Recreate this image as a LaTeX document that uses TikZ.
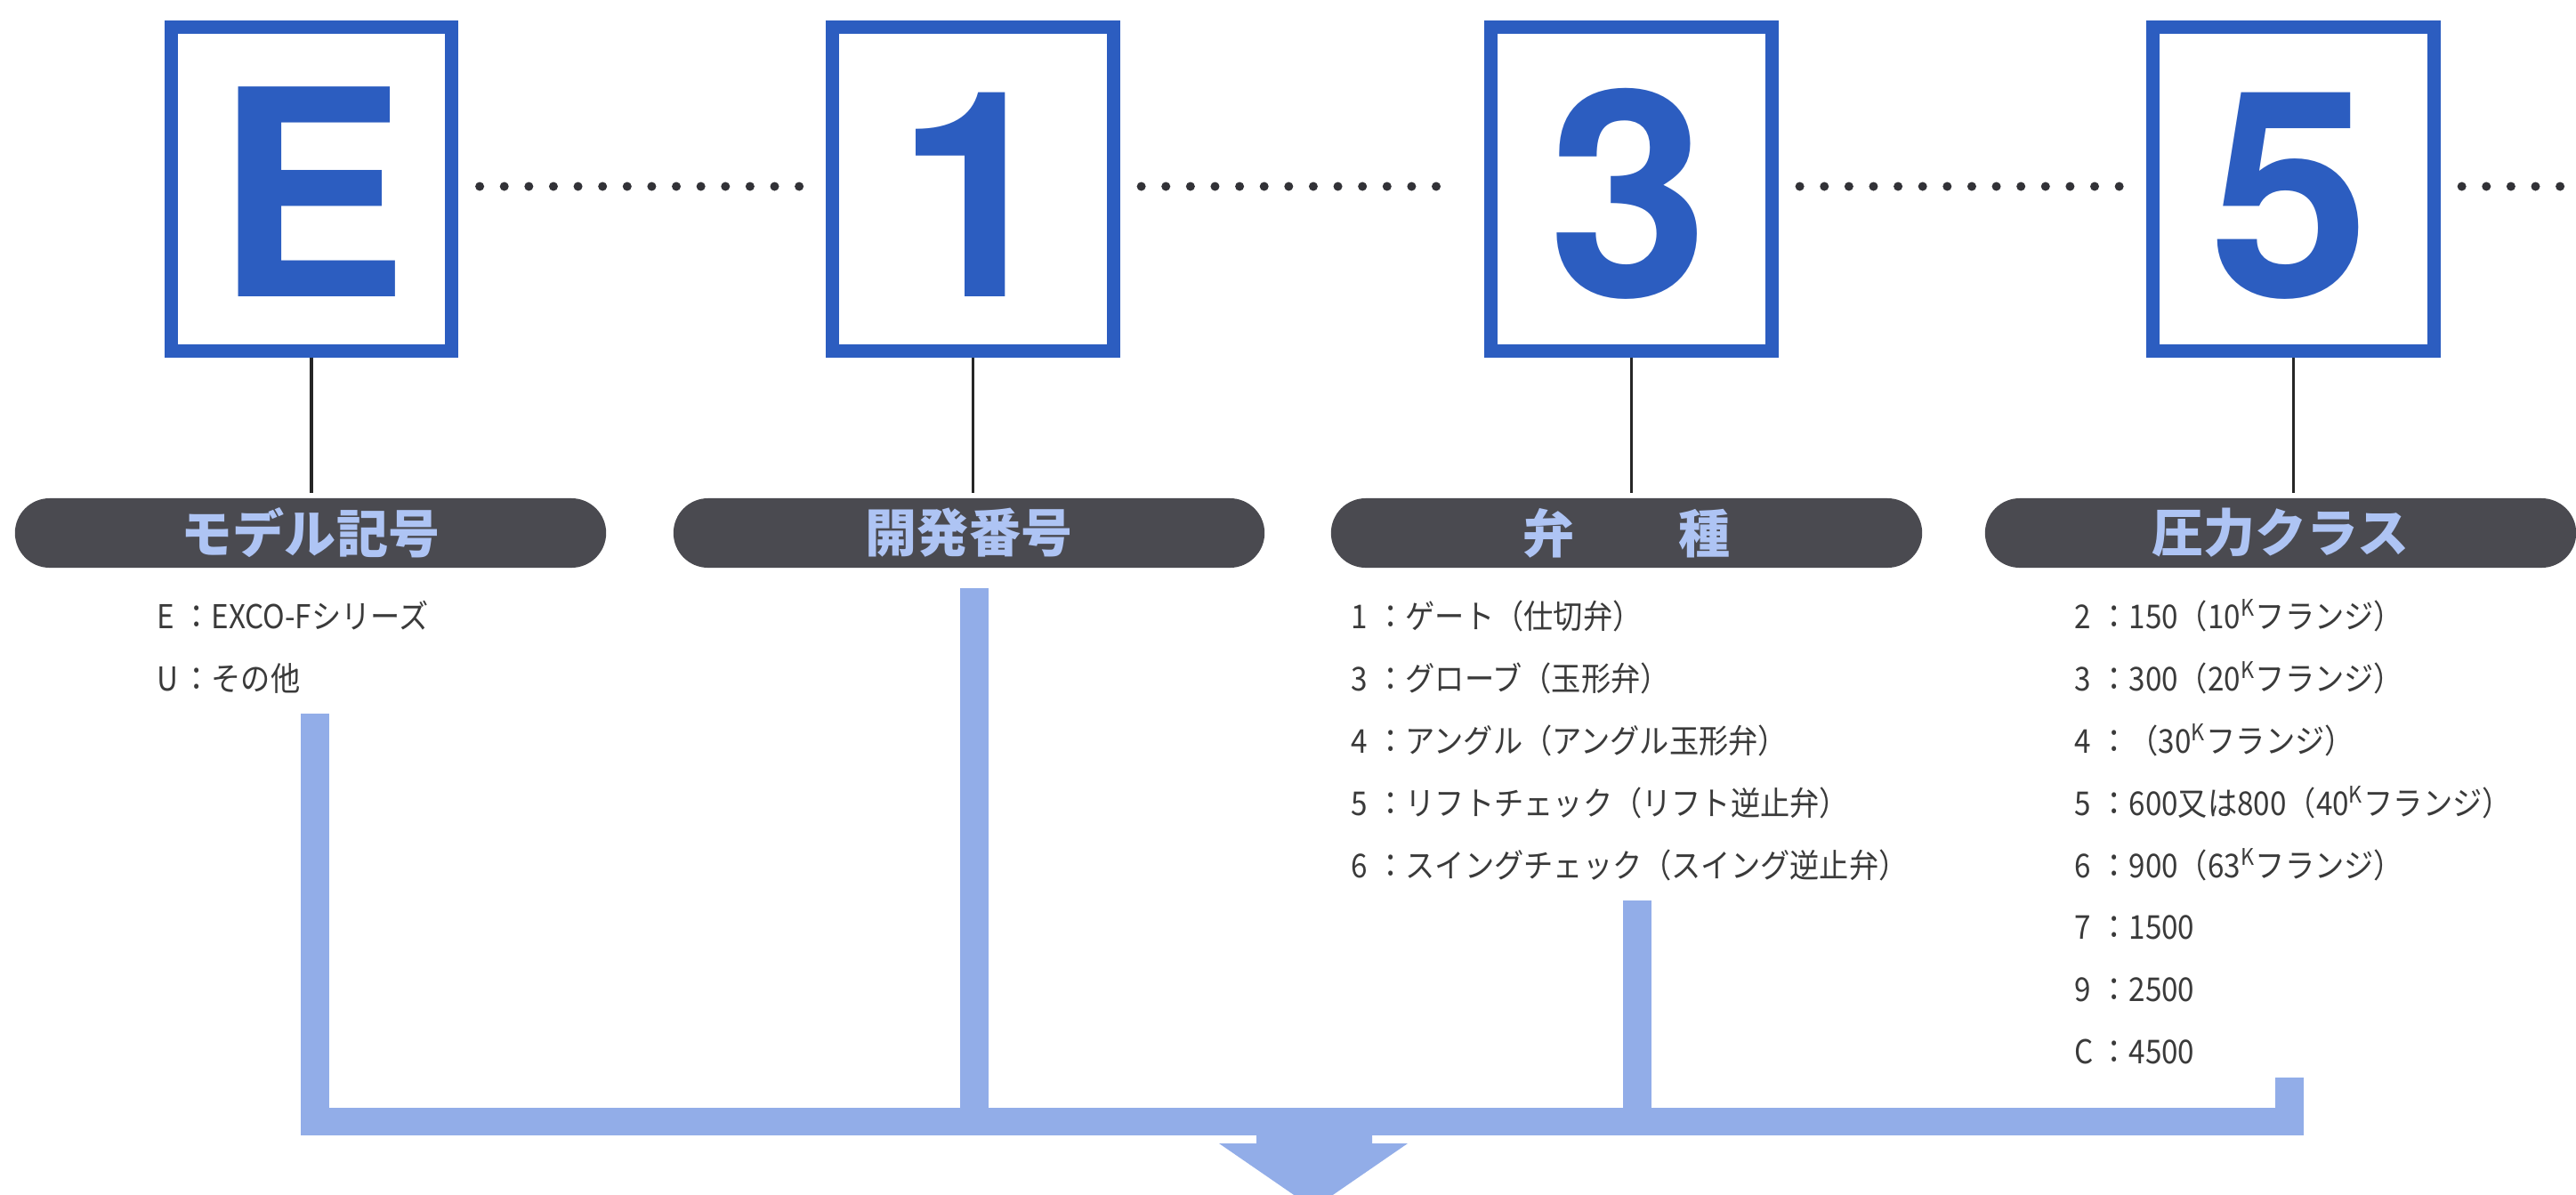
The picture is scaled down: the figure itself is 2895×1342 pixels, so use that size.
\documentclass[tikz,border=0pt]{standalone}
\usepackage{fontspec}
\setmainfont{Liberation Sans}
\newfontfamily\heros{TeX Gyre Heros}
\newfontfamily\cjk{Noto Sans CJK JP}
\newfontfamily\cjkn{Noto Sans CJK JP}[FakeStretch=0.9]
\definecolor{boxblue}{RGB}{44,93,192}
\definecolor{pillgray}{RGB}{74,74,80}
\definecolor{pilltext}{RGB}{174,196,244}
\definecolor{barblue}{RGB}{146,173,232}
\definecolor{itemtext}{RGB}{58,58,58}
\definecolor{dotgray}{RGB}{50,50,55}
\newcommand{\itm}[2]{\makebox[0.75em][l]{#1}：#2}
\newcommand{\kup}{\textsuperscript{K}}
\begin{document}
\begin{tikzpicture}[x=0.01cm,y=-0.01cm,
  codebox/.style={draw=boxblue, line width=0.15cm, fill=white, minimum width=3.15cm, minimum height=3.64cm, inner sep=0pt},
  numtxt/.style={text=boxblue, font=\heros\bfseries\fontsize{92}{92}\selectfont, inner sep=0pt, anchor=base},
  dotrow/.style={draw=dotgray, line width=0.10cm, line cap=round, dash pattern=on 0pt off 0.276cm},
  leadline/.style={draw=black!85, line width=0.035cm},
  pill/.style={fill=pillgray, rounded corners=0.39cm, minimum width=6.64cm, minimum height=0.78cm, inner sep=0pt, text=pilltext, font=\cjk\bfseries\fontsize{16.5}{16.5}\selectfont},
  listitem/.style={anchor=west, inner sep=0pt, text=itemtext, font=\cjkn\fontsize{10.5}{10.5}\selectfont},
  flowbar/.style={draw=barblue, line width=0.315cm, line join=miter, line cap=butt}
]
\useasboundingbox (0,0) rectangle (2895,1342);
\clip (0,0) rectangle (2895,1342);
\fill[white] (0,0) rectangle (2895,1342);

% code boxes
\node[codebox] (bE) at (350,212.5) {};
\node[codebox] (b1) at (1093.5,212.5) {};
\node[codebox] (b3) at (1833.5,212.5) {};
\node[codebox] (b5) at (2577.5,212.5) {};
\node[numtxt] (nE) at (350,333) {E};
\node[numtxt] (n1) at (1097,333) {1};
\node[numtxt] (n3) at (1830,333) {3};
\node[numtxt] (n5) at (2573,333) {5};

% dotted links
\coordinate (dotend) at (2895,212.5);
\draw[dotrow] ([xshift=0.24cm,yshift=0.03cm]bE.east) -- ([xshift=-0.3cm,yshift=0.03cm]b1.west);
\draw[dotrow] ([xshift=0.24cm,yshift=0.03cm]b1.east) -- ([xshift=-0.3cm,yshift=0.03cm]b3.west);
\draw[dotrow] ([xshift=0.24cm,yshift=0.03cm]b3.east) -- ([xshift=-0.3cm,yshift=0.03cm]b5.west);
\draw[dotrow] ([xshift=0.24cm,yshift=0.03cm]b5.east) -- ([yshift=0.03cm]dotend);

% pills
\node[pill] (pE) at (349,599) {モデル記号};
\node[pill] (p1) at (1089,599) {開発番号};
\node[pill] (p3) at (1828,599) {弁　　種};
\node[pill] (p5) at (2563,599) {圧力クラス};

% lead lines
\draw[leadline] (bE.south) -- ([yshift=0.05cm]bE.south |- pE.north);
\draw[leadline] (b1.south) -- ([yshift=0.05cm]b1.south |- p1.north);
\draw[leadline] (b3.south) -- ([yshift=0.05cm]b3.south |- p3.north);
\draw[leadline] (b5.south) -- ([yshift=0.05cm]b5.south |- p5.north);

% lists
\foreach \t [count=\i from 0] in {{\itm{E}{EXCO-Fシリーズ}},{\itm{U}{その他}}}
  \node[listitem] (lE-\i) at (176,692+70*\i) {\t};
\foreach \t [count=\i from 0] in {{\itm{1}{ゲート（仕切弁）}},{\itm{3}{グローブ（玉形弁）}},{\itm{4}{アングル（アングル玉形弁）}},{\itm{5}{リフトチェック（リフト逆止弁）}},{\itm{6}{スイングチェック（スイング逆止弁）}}}
  \node[listitem] (l3-\i) at (1518,692+70*\i) {\t};
\foreach \t [count=\i from 0] in {{\itm{2}{150（10\kup フランジ）}},{\itm{3}{300（20\kup フランジ）}},{\itm{4}{（30\kup フランジ）}},{\itm{5}{600又は800（40\kup フランジ）}},{\itm{6}{900（63\kup フランジ）}},{\itm{7}{1500}},{\itm{9}{2500}},{\itm{C}{4500}}}
  \node[listitem] (l5-\i) at (2331,692+70*\i) {\t};

% flow bars
\coordinate (tE) at (354,802);
\coordinate (t1) at (1095,661);
\coordinate (t3) at (1840,1012);
\coordinate (t5) at (2573,1211);
\coordinate (hy) at (0,1260.5);
\draw[flowbar] (tE) -- (tE |- hy) -- (t5 |- hy) -- (t5);
\draw[flowbar] (t1) -- (t1 |- hy);
\draw[flowbar] (t3) -- (t3 |- hy);
\coordinate (arrtip) at (1476,1358);
\fill[barblue] (1412,1262) -- (1542,1262) -- (1542,1285) -- (1582,1285) -- (arrtip) -- (1370,1285) -- (1412,1285) -- cycle;
\end{tikzpicture}
\end{document}
